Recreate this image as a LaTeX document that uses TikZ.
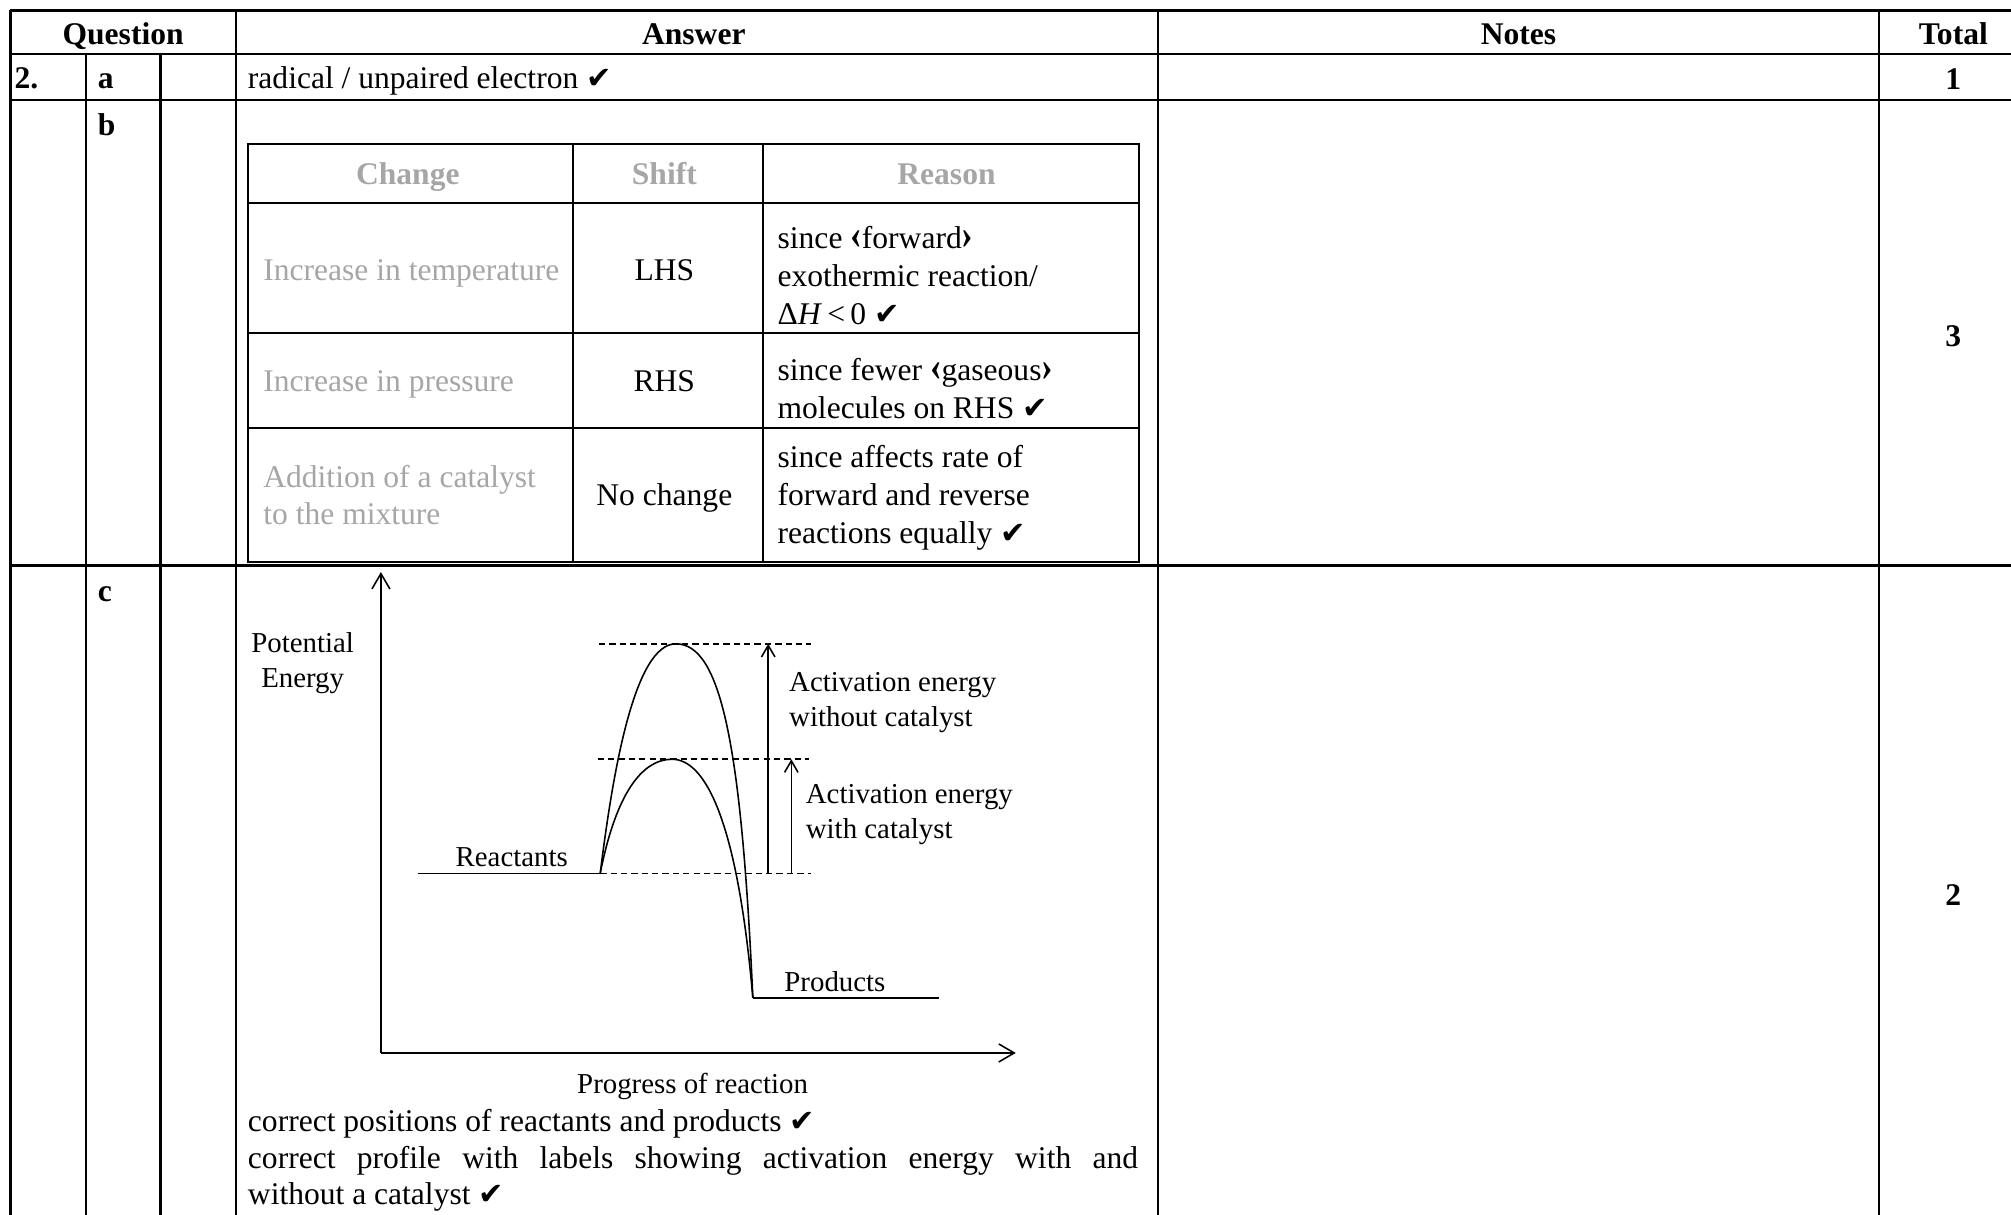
\documentclass[tikz,border=0pt]{standalone}
\usepackage{fontspec}
\setmainfont{Liberation Serif}
\newfontfamily\tickfont{DejaVu Sans}
\usetikzlibrary{arrows,arrows.meta}
\definecolor{softgrey}{RGB}{166,166,166}
\newcommand{\tick}{{\tickfont\fontsize{13.5}{13.5}\selectfont ✔}}
\newcommand{\lang}{\scalebox{1.1}[1.35]{\textbf{‹}}}
\newcommand{\rang}{\scalebox{1.1}[1.35]{\textbf{›}}}

\begin{document}
\begin{tikzpicture}[x=0.2mm, y=-0.2mm,
  rule/.style={line width=1.2pt},
  inrule/.style={line width=0.9pt},
  curve/.style={line width=0.7pt},
  level/.style={line width=0.7pt, dash pattern=on 2.8pt off 1.8pt},
  axisarrow/.style={curve, -{Straight Barb[length=2.4mm, width=2.8mm]}},
  gaparrow/.style={curve, -{Straight Barb[length=1.8mm, width=2.1mm]}},
  txt/.style={inner sep=0pt, font=\fontsize{14}{16.8}\selectfont},
  hd/.style={inner sep=0pt, font=\fontsize{14}{16.8}\selectfont\bfseries},
  grey/.style={text=softgrey},
  lbl/.style={inner sep=0pt, font=\fontsize{12.8}{15.4}\selectfont}]
  \useasboundingbox (0,0) rectangle (1568,947);

  \draw [rule] (8,8) -- (1568,8);
  \draw [rule] (8,42) -- (1568,42);
  \draw [rule] (8,78) -- (1568,78);
  \draw [rule] (8,441) -- (1568,441);
  \draw [rule] (8,8) -- (8,947);
  \draw [rule] (67,42) -- (67,947);
  \draw [rule] (125,42) -- (125,947);
  \draw [rule] (184,8) -- (184,947);
  \draw [rule] (903,8) -- (903,947);
  \draw [rule] (1465,8) -- (1465,947);

  \node [hd, anchor=base] (QH) at (96,35) {Question};
  \node [hd, anchor=base] (AH) at (541,35) {Answer};
  \node [hd, anchor=base] (NH) at (1184,35) {Notes};
  \node [hd, anchor=base] (TH) at (1523,35) {Total};
  \node [hd, anchor=base west] (QN) at (11,69) {2.};
  \node [hd, anchor=base west] (PA) at (76,69) {a};
  \node [hd, anchor=base west] (PB) at (76,106) {b};
  \node [hd, anchor=base west] (PC) at (76,469) {c};
  \node [txt, anchor=base west] (RA) at (193,69) {radical / unpaired electron \tick};
  \node [hd, anchor=base] (MA) at (1523,70) {1};
  \node [hd, anchor=base] (MB) at (1523,270) {3};
  \node [hd, anchor=base] (MC) at (1523,706) {2};

  \draw [inrule] (193,112) rectangle (888,438);
  \draw [inrule] (447,112) -- (447,438);
  \draw [inrule] (595,112) -- (595,438);
  \draw [inrule] (193,158) -- (888,158);
  \draw [inrule] (193,260) -- (888,260);
  \draw [inrule] (193,334) -- (888,334);

  \node [hd, grey, anchor=base] (CH) at (318,144) {Change};
  \node [hd, grey, anchor=base] (SH) at (518,144) {Shift};
  \node [hd, grey, anchor=base] (WH) at (738,144) {Reason};
  \node [txt, grey, anchor=base west] (C1) at (205,219) {Increase in temperature};
  \node [txt, anchor=base] (S1) at (518,219) {LHS};
  \node [txt, anchor=west, align=left] (W1) at (606,215)
    {since \lang forward\rang\\exothermic reaction/\\Δ\textit{H}\,<\,0 \tick};
  \node [txt, grey, anchor=base west] (C2) at (205,305) {Increase in pressure};
  \node [txt, anchor=base] (S2) at (518,305) {RHS};
  \node [txt, anchor=west, align=left] (W2) at (606,303)
    {since fewer \lang gaseous\rang\\molecules on RHS \tick};
  \node [txt, grey, anchor=west, align=left] (C3) at (205,386) {Addition of a catalyst\\to the mixture};
  \node [txt, anchor=base] (S3) at (518,394) {No change};
  \node [txt, anchor=west, align=left] (W3) at (606,388)
    {since affects rate of\\forward and reverse\\reactions equally \tick};

  \coordinate (O) at (297,821);
  \coordinate (YT) at (297,446);
  \coordinate (XR) at (792,821);
  \draw [axisarrow] (O) -- (YT);
  \draw [axisarrow] (O) -- (XR);
  \node [lbl, align=center] (PE) at (236,517) {Potential\\Energy};
  \node [lbl] (PR) at (540,847) {Progress of reaction};

  \coordinate (RL) at (326,681);
  \coordinate (R) at (468,681);
  \coordinate (TS) at (527,502);
  \coordinate (CS) at (524,592);
  \coordinate (P) at (587,778);
  \coordinate (PL) at (732,778);
  \draw [curve] (RL) -- (R);
  \draw [curve] (P) -- (PL);
  \draw [curve] (R) .. controls (478,600) and (495,502) .. (TS)
    .. controls (562,502) and (578,580) .. (P);
  \draw [curve] (R) .. controls (480,620) and (500,592) .. (CS)
    .. controls (550,592) and (575,640) .. (P);
  \node [lbl] (RN) at (399,668) {Reactants};
  \node [lbl] (PN) at (651,765) {Products};

  \coordinate (TL) at (467,502);
  \coordinate (TR) at (632,502);
  \coordinate (ML) at (466,592);
  \coordinate (MR) at (631,592);
  \coordinate (BR) at (632,681);
  \draw [level] (TL) -- (TR);
  \draw [level] (ML) -- (MR);
  \draw [level] (R) -- (BR);
  \coordinate (EA) at (599,681);
  \coordinate (EAT) at (599,502);
  \coordinate (EC) at (617,681);
  \coordinate (ECT) at (617,592);
  \draw [gaparrow] (EA) -- (EAT);
  \draw [gaparrow] (EC) -- (ECT);
  \node [lbl, anchor=west, align=left] (LA) at (615,548) {Activation energy\\without catalyst};
  \node [lbl, anchor=west, align=left] (LC) at (628,635) {Activation energy\\with catalyst};

  \node [txt, anchor=base west] (K1) at (193,882) {correct positions of reactants and products \tick};
  \node [txt, anchor=base west] (K2) at (193,911)
    {\makebox[138.8mm][s]{correct profile with labels showing activation energy with and}};
  \node [txt, anchor=base west] (K3) at (193,939) {without a catalyst \tick};
\end{tikzpicture}
\end{document}
